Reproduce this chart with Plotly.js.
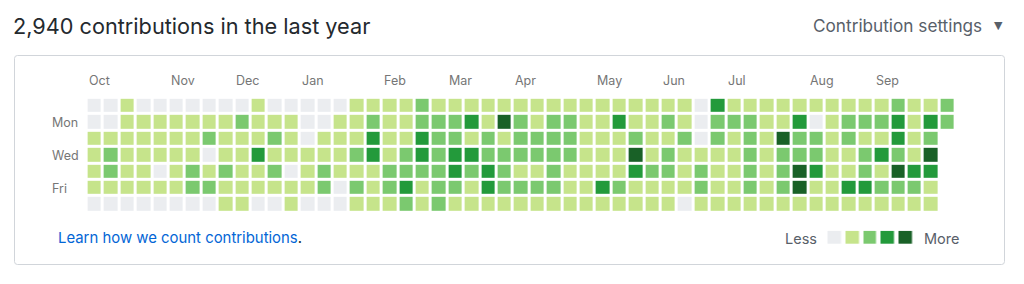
<!DOCTYPE html>
<html>
<head>
<meta charset="utf-8">
<script src="https://cdn.plot.ly/plotly-3.0.1.min.js"></script>
<style>html,body{margin:0;padding:0;background:#fff;}#chart{width:1024px;height:284px;}</style>
</head>
<body>
<div id="chart"></div>
<script>
// Contribution levels (0 = none ... 4 = most), one array per weekday row, 53 weeks
const sun = [0,0,1,0,0,0,0,0,0,0,1,0, 0,0,0,0,1,1,1,1,2,1,1,1,1,1, 1,1,1,1,1,1,1,1,1,1,1,0,3,1, 1,1,1,1,1,1,1,1,1,2,1,1,2];
const mon = [0,0,1,1,1,1,1,1,1,2,1,1, 1,0,0,1,1,2,1,1,2,2,2,3,1,4, 2,1,2,2,1,1,3,1,1,2,1,0,2,2, 2,1,1,3,0,1,2,2,2,3,1,3,2];
const tue = [1,1,1,1,1,1,1,2,1,1,1,2, 1,0,1,1,1,3,1,1,3,2,2,1,2,1, 2,2,2,2,1,1,1,2,1,1,2,0,2,1, 2,1,4,2,2,1,2,1,1,3,1,2,null];
const wed = [1,2,1,1,1,1,1,0,1,1,3,1, 1,1,1,1,2,3,1,2,3,2,3,3,2,2, 2,2,2,2,1,1,1,4,1,2,1,1,1,1, 2,1,2,2,2,1,1,2,3,2,1,4,null];
const thu = [1,2,1,1,0,1,2,1,2,1,1,2, 0,1,2,1,1,1,2,2,2,2,3,2,3,2, 1,1,2,1,1,1,1,3,2,2,1,2,1,1, 2,1,2,4,3,1,1,2,1,4,3,3,null];
const fri = [1,1,1,1,1,1,2,2,1,1,1,1, 1,1,2,0,2,1,2,3,1,2,2,1,3,2, 2,2,2,1,1,3,2,1,1,1,1,2,1,1, 2,1,2,4,1,1,3,3,2,2,2,1,null];
const sat = [0,0,0,0,0,0,0,0,1,1,0,0, 1,0,0,0,1,1,1,2,1,2,1,1,1,1, 1,1,1,1,1,1,1,1,1,1,0,1,1,1, 1,1,1,1,1,1,1,1,1,1,1,1,null];

const monthLabels = ['Oct','Nov','Dec','Jan','Feb','Mar','Apr','May','Jun','Jul','Aug','Sep'];
const monthCols   = [0,5,9,13,18,22,26,31,35,39,44,48];
const dayLabels = ['Mon','Wed','Fri'];
const dayRows   = [1,3,5];
const legendLevels = [0,1,2,3,4];
const palette = ['#ebedf0','#c6e48b','#7bc96f','#239a3b','#196127'];

const W = 1024, H = 284;
const px = v => v / W;
const py = v => 1 - v / H;

const z = [sun, mon, tue, wed, thu, fri, sat];
const nWeeks = sun.length;

// discrete colorscale
const cs = [];
palette.forEach((c, i) => {
  const a = Math.max(0, (i - 0.5) / (palette.length - 1));
  const b = Math.min(1, (i + 0.5) / (palette.length - 1));
  cs.push([a, c]); cs.push([b, c]);
});

const grid = {
  type: 'heatmap',
  z: z,
  x: Array.from({length: nWeeks}, (_, i) => i),
  y: [0,1,2,3,4,5,6],
  zmin: 0, zmax: 4,
  colorscale: cs,
  showscale: false,
  xgap: 3, ygap: 3,
  hoverinfo: 'skip',
  xaxis: 'x', yaxis: 'y'
};

const legend = {
  type: 'heatmap',
  z: [legendLevels],
  x: legendLevels,
  y: [0],
  zmin: 0, zmax: 4,
  colorscale: cs,
  showscale: false,
  xgap: 4.5, ygap: 0,
  hoverinfo: 'skip',
  xaxis: 'x2', yaxis: 'y2'
};

const font = 'Inter, Liberation Sans, Arial, sans-serif';
const annotations = [];
monthLabels.forEach((m, i) => {
  annotations.push({text: m, xref: 'x', yref: 'paper', x: monthCols[i] - 0.5, y: py(81),
    xanchor: 'left', yanchor: 'middle', showarrow: false,
    font: {family: font, size: 12.5, color: '#767676'}});
});
dayLabels.forEach((d, i) => {
  annotations.push({text: d, xref: 'paper', yref: 'y', x: px(50), y: dayRows[i],
    xanchor: 'left', yanchor: 'middle', showarrow: false,
    font: {family: font, size: 12.5, color: '#767676'}});
});
annotations.push({text: 'Contribution settings', xref: 'paper', yref: 'paper', x: px(984), y: py(25),
  xanchor: 'right', yanchor: 'middle', showarrow: false, font: {family: font, size: 17.2, color: '#586069'}});
annotations.push({text: '▼', xref: 'paper', yref: 'paper', x: px(998), y: py(25),
  xanchor: 'center', yanchor: 'middle', showarrow: false, font: {family: 'DejaVu Sans, sans-serif', size: 11, color: '#586069'}});
annotations.push({text: '<span style="color:#0366d6">Learn how we count contributions</span>.', xref: 'paper', yref: 'paper',
  x: px(56), y: py(238), xanchor: 'left', yanchor: 'middle', showarrow: false,
  font: {family: font, size: 14.9, color: '#24292e'}});
annotations.push({text: 'Less', xref: 'paper', yref: 'paper', x: px(783), y: py(238),
  xanchor: 'left', yanchor: 'middle', showarrow: false, font: {family: font, size: 14.5, color: '#586069'}});
annotations.push({text: 'More', xref: 'paper', yref: 'paper', x: px(922), y: py(238),
  xanchor: 'left', yanchor: 'middle', showarrow: false, font: {family: font, size: 14.5, color: '#586069'}});

function roundedRect(x0, y0, x1, y1, r) {
  const X = v => px(v).toFixed(5), Y = v => py(v).toFixed(5);
  return 'M' + X(x0 + r) + ',' + Y(y0) +
    ' L' + X(x1 - r) + ',' + Y(y0) + ' Q' + X(x1) + ',' + Y(y0) + ' ' + X(x1) + ',' + Y(y0 + r) +
    ' L' + X(x1) + ',' + Y(y1 - r) + ' Q' + X(x1) + ',' + Y(y1) + ' ' + X(x1 - r) + ',' + Y(y1) +
    ' L' + X(x0 + r) + ',' + Y(y1) + ' Q' + X(x0) + ',' + Y(y1) + ' ' + X(x0) + ',' + Y(y1 - r) +
    ' L' + X(x0) + ',' + Y(y0 + r) + ' Q' + X(x0) + ',' + Y(y0) + ' ' + X(x0 + r) + ',' + Y(y0) + ' Z';
}

const layout = {
  width: W, height: H,
  margin: {l: 0, r: 0, t: 0, b: 0},
  paper_bgcolor: '#ffffff', plot_bgcolor: 'rgba(0,0,0,0)',
  title: {text: '2,940 contributions in the last year', xref: 'container', yref: 'container',
    x: px(13), y: py(26), xanchor: 'left', yanchor: 'middle',
    font: {family: font, size: 21.7, color: '#24292e'}},
  xaxis: {domain: [px(86.6), px(955.8)], range: [-0.5, nWeeks - 0.5], visible: false, fixedrange: true},
  yaxis: {domain: [py(212.6), py(97.8)], range: [6.5, -0.5], visible: false, fixedrange: true},
  xaxis2: {domain: [px(825.5), px(914.5)], range: [-0.5, 4.5], visible: false, anchor: 'y2'},
  yaxis2: {domain: [py(244), py(230.7)], range: [-0.5, 0.5], visible: false, anchor: 'x2'},
  shapes: [{type: 'path', xref: 'paper', yref: 'paper', path: roundedRect(14.5, 55.5, 1004.5, 264.5, 3),
    line: {color: '#d1d5da', width: 1}, fillcolor: 'rgba(0,0,0,0)', layer: 'below'}],
  annotations: annotations,
  showlegend: false
};

Plotly.newPlot('chart', [grid, legend], layout, {displayModeBar: false, staticPlot: true});
</script>
</body>
</html>
